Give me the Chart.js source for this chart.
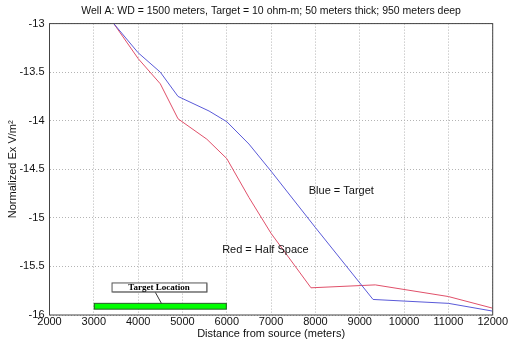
<!DOCTYPE html>
<html>
<head>
<meta charset="utf-8">
<script src="https://cdn.jsdelivr.net/npm/chart.js@4"></script>
<style>
  html, body { margin: 0; padding: 0; background: #fff; }
  #wrap { width: 508px; height: 340px; }
</style>
</head>
<body>
<div id="wrap"><canvas id="chart" width="508" height="340"></canvas></div>
<script>
// values
const blueX = [3450, 4000, 4500, 4900, 5600, 6000, 6500, 7000, 8000, 9300, 11000, 12000];
const blueY = [-13, -13.30, -13.50, -13.75, -13.90, -14.01, -14.24, -14.52, -15.10, -15.84, -15.88, -15.96];
const redX = [3450, 4000, 4500, 4900, 5550, 6000, 6500, 7000, 7900, 9350, 11000, 12000];
const redY = [-13, -13.36, -13.62, -13.98, -14.19, -14.39, -14.79, -15.16, -15.72, -15.69, -15.81, -15.93];
const xTicks = [2000, 3000, 4000, 5000, 6000, 7000, 8000, 9000, 10000, 11000, 12000];
const yTicks = [-16, -15.5, -15, -14.5, -14, -13.5, -13];
const target = [3000, 6000]; // target location along the profile

const FONT = 'Arial, "Liberation Sans", sans-serif';

const toPoints = (xs, ys) => xs.map((x, i) => ({ x: x, y: ys[i] }));

// extra drawing: box, target bar, labels
const decorations = {
    id: 'decorations',
    afterDatasetsDraw(chart) {
        const { ctx, chartArea: a, scales: { x, y } } = chart;
        ctx.save();

        // green target bar
        const x0 = x.getPixelForValue(target[0]);
        const x1 = x.getPixelForValue(target[1]);
        const yt = y.getPixelForValue(-15.88);
        const yb = y.getPixelForValue(-15.94);
        ctx.fillStyle = '#00ff00';
        ctx.fillRect(x0, yt, x1 - x0, yb - yt);
        ctx.strokeStyle = '#2a5a2a';
        ctx.lineWidth = 1;
        ctx.strokeRect(x0 + 0.5, yt, x1 - x0 - 1, yb - yt);

        // label box with leader line
        const bx0 = x.getPixelForValue(3400);
        const bx1 = x.getPixelForValue(5540);
        const by0 = y.getPixelForValue(-15.665);
        const by1 = y.getPixelForValue(-15.758);
        ctx.fillStyle = '#999';
        ctx.fillRect(bx0 + 1, by0 + 1, bx1 - bx0, by1 - by0);
        ctx.fillStyle = '#fff';
        ctx.fillRect(bx0, by0, bx1 - bx0, by1 - by0);
        ctx.strokeStyle = '#555';
        ctx.strokeRect(bx0 + 0.5, by0 + 0.5, bx1 - bx0, by1 - by0);
        ctx.beginPath();
        ctx.moveTo(x.getPixelForValue(4390), by1 + 1);
        ctx.lineTo(x.getPixelForValue(4525), yt);
        ctx.strokeStyle = '#333';
        ctx.stroke();
        ctx.fillStyle = '#000';
        ctx.font = 'bold 9px "Liberation Serif", "Times New Roman", serif';
        ctx.textAlign = 'center';
        ctx.textBaseline = 'middle';
        ctx.fillText('Target Location', (bx0 + bx1) / 2, (by0 + by1) / 2 + 0.5);

        // legend texts
        ctx.font = '11px ' + FONT;
        ctx.textAlign = 'left';
        ctx.fillStyle = '#111';
        ctx.fillText('Blue = Target', x.getPixelForValue(7850), y.getPixelForValue(-14.72));
        ctx.fillText('Red = Half Space', x.getPixelForValue(5895), y.getPixelForValue(-15.335));

        // axes box
        ctx.strokeStyle = '#444';
        ctx.lineWidth = 1;
        ctx.strokeRect(a.left, a.top, a.right - a.left, a.bottom - a.top);
        ctx.restore();
    }
};

new Chart(document.getElementById('chart'), {
    type: 'line',
    data: {
        datasets: [
            {
                label: 'Target',
                data: toPoints(blueX, blueY),
                borderColor: '#5a5ad8',
                borderWidth: 1,
                pointRadius: 0,
                tension: 0
            },
            {
                label: 'Half Space',
                data: toPoints(redX, redY),
                borderColor: '#e0506a',
                borderWidth: 1,
                pointRadius: 0,
                tension: 0
            }
        ]
    },
    options: {
        responsive: false,
        animation: false,
        layout: { padding: { left: 0, right: 13, top: 0, bottom: 0 } },
        plugins: {
            legend: { display: false },
            tooltip: { enabled: false },
            title: {
                display: true,
                fullSize: false,
                text: 'Well A: WD = 1500 meters, Target = 10 ohm-m; 50 meters thick; 950 meters deep',
                color: '#111',
                font: { family: FONT, size: 10.5, weight: 'normal', lineHeight: 1.2 },
                padding: { top: 5, bottom: 6 }
            }
        },
        scales: {
            x: {
                type: 'linear',
                min: 2000,
                max: 12000,
                afterBuildTicks: (s) => { s.ticks = xTicks.map(v => ({ value: v })); },
                afterFit: (s) => { s.height = 25; },
                ticks: {
                    color: '#111',
                    padding: 0,
                    maxRotation: 0,
                    font: { family: FONT, size: 11 },
                    callback: (v) => String(v)
                },
                grid: { color: '#b4b4b4', drawTicks: false },
                border: { display: false, dash: [1, 2] },
                title: {
                    display: true,
                    text: 'Distance from source (meters)',
                    color: '#111',
                    font: { family: FONT, size: 11, lineHeight: 1 },
                    padding: { top: 1, bottom: 1 }
                }
            },
            y: {
                type: 'linear',
                min: -16,
                max: -13,
                afterBuildTicks: (s) => { s.ticks = yTicks.map(v => ({ value: v })); },
                afterFit: (s) => { s.width = 49.5; },
                ticks: {
                    color: '#111',
                    padding: 5,
                    font: { family: FONT, size: 11 },
                    callback: (v) => String(v)
                },
                grid: { color: '#b4b4b4', drawTicks: false },
                border: { display: false, dash: [1, 2] },
                title: {
                    display: true,
                    text: 'Normalized Ex V/m\u00b2',
                    color: '#111',
                    font: { family: FONT, size: 11 },
                    padding: { top: 6, bottom: 0 }
                }
            }
        }
    },
    plugins: [decorations]
});
</script>
</body>
</html>
